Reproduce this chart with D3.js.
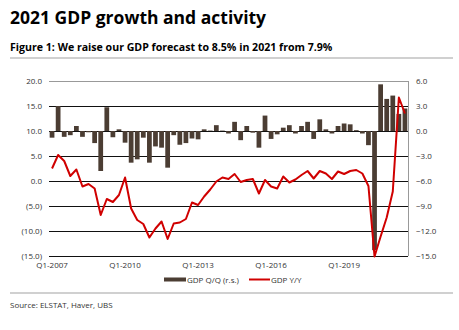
<!DOCTYPE html>
<html><head><meta charset="utf-8">
<script src="https://cdn.jsdelivr.net/npm/d3@7"></script>
<style>
body{margin:0;background:#fff;}
svg{display:block;font-family:"Open Sans","Noto Sans",sans-serif;}
</style></head>
<body><svg id="c" width="459" height="330"></svg>
<script>
const quarters = ["Q1-2007","Q2-2007","Q3-2007","Q4-2007","Q1-2008","Q2-2008","Q3-2008","Q4-2008",
"Q1-2009","Q2-2009","Q3-2009","Q4-2009","Q1-2010","Q2-2010","Q3-2010","Q4-2010",
"Q1-2011","Q2-2011","Q3-2011","Q4-2011","Q1-2012","Q2-2012","Q3-2012","Q4-2012",
"Q1-2013","Q2-2013","Q3-2013","Q4-2013","Q1-2014","Q2-2014","Q3-2014","Q4-2014",
"Q1-2015","Q2-2015","Q3-2015","Q4-2015","Q1-2016","Q2-2016","Q3-2016","Q4-2016",
"Q1-2017","Q2-2017","Q3-2017","Q4-2017","Q1-2018","Q2-2018","Q3-2018","Q4-2018",
"Q1-2019","Q2-2019","Q3-2019","Q4-2019","Q1-2020","Q2-2020","Q3-2020","Q4-2020",
"Q1-2021","Q2-2021","Q3-2021"];
// GDP Q/Q (right scale, bars)
const gdpQoQ = [-0.8,3.0,-0.7,-0.5,0.6,-0.7,-0.15,-1.45,
-4.8,2.85,-0.75,0.2,-1.4,-3.8,-3.4,-0.8,
-3.8,-1.85,-2.0,-4.4,-0.5,-1.65,-1.45,-0.9,
-1.0,0.2,0.05,0.7,0.05,-0.3,1.1,-1.1,
0.6,-0.2,-2.0,1.85,-0.95,-0.4,0.4,0.7,
-0.3,0.6,1.1,-0.95,1.4,0.2,-0.3,0.6,
0.9,0.8,0.1,-0.3,-1.7,-14.3,5.6,3.85,
4.25,2.05,2.7];
// GDP Y/Y (left scale, line)
const gdpYoY = [2.5,5.2,4.0,1.0,2.3,-1.1,-0.6,-1.5,
-6.8,-3.6,-4.2,-2.8,0.7,-5.5,-7.8,-8.6,
-11.3,-9.5,-8.1,-11.6,-8.5,-8.3,-7.6,-4.3,
-4.8,-3.1,-1.7,-0.1,0.7,0.4,1.4,-0.2,
0.2,0.4,-2.5,0.2,-1.1,-1.5,0.9,-0.3,
0.3,1.2,2.0,0.5,2.0,1.5,0.4,1.9,
1.4,2.0,2.2,1.5,-1.0,-15.1,-11.1,-7.3,
-2.1,16.7,13.5];
const leftTicks = [20,15,10,5,0,-5,-10,-15];
const rightTicks = [6,3,0,-3,-6,-9,-12,-15];
const xTickLabels = ["Q1-2007","Q1-2010","Q1-2013","Q1-2016","Q1-2019"];
const seriesNames = ["GDP Q/Q (r.s.)","GDP Y/Y"];

const svg = d3.select("#c");
const L=49, R=408, T=81, B=256;
const x = d3.scaleBand().domain(quarters).range([L,R]).paddingInner(0.22).paddingOuter(0.11);
const yL = d3.scaleLinear().domain([-15,20]).range([B,T]);
const yR = d3.scaleLinear().domain([-15,6]).range([B,T]);

// titles
svg.append("text").attr("x",10).attr("y",24).attr("font-size",17.5).attr("font-weight",700).attr("fill","#000").text("2021 GDP growth and activity");
svg.append("text").attr("x",10).attr("y",51).attr("font-size",10.6).attr("font-weight",700).attr("fill","#000").text("Figure 1: We raise our GDP forecast to 8.5% in 2021 from 7.9%");
svg.append("rect").attr("x",10).attr("y",57).attr("width",443).attr("height",2).attr("fill","#d0d0d0");

// gridlines
svg.append("g").selectAll("line").data(leftTicks).join("line")
  .attr("x1",L).attr("x2",R).attr("y1",d=>Math.round(yL(d))+0.5).attr("y2",d=>Math.round(yL(d))+0.5)
  .attr("stroke",d=>d===20?"#999":"#111").attr("stroke-width",1);
svg.append("line").attr("x1",R+0.5).attr("x2",R+0.5).attr("y1",T).attr("y2",B).attr("stroke","#999");

// left axis
const axL = svg.append("g").attr("transform",`translate(${L-7},0)`)
  .call(d3.axisLeft(yL).tickValues(leftTicks).tickSize(0).tickPadding(0)
  .tickFormat(d=> d<0 ? "("+d3.format(".1f")(-d)+")" : d3.format(".1f")(d)));
axL.select(".domain").remove();
axL.selectAll("text").attr("font-size",8).attr("fill","#333").attr("font-family","Open Sans, sans-serif");

// right axis
const axR = svg.append("g").attr("transform",`translate(${R+8},0)`)
  .call(d3.axisRight(yR).tickValues(rightTicks).tickSize(0).tickPadding(0).tickFormat(d3.format(".1f")));
axR.select(".domain").remove();
axR.selectAll("text").attr("font-size",8).attr("fill","#333").attr("font-family","Open Sans, sans-serif");

// bars
svg.append("g").selectAll("rect").data(gdpQoQ).join("rect")
  .attr("x",(d,i)=>x(quarters[i]))
  .attr("width",x.bandwidth())
  .attr("y",d=>Math.min(yR(d),yR(0)))
  .attr("height",d=>Math.abs(yR(d)-yR(0)))
  .attr("fill","#4b3d33");

// line
const line = d3.line().x((d,i)=>x(quarters[i])+x.bandwidth()/2).y(d=>yL(d));
svg.append("path").datum(gdpYoY).attr("d",line).attr("fill","none")
  .attr("stroke","#d00000").attr("stroke-width",2).attr("stroke-linejoin","round");

// x axis labels
const axX = svg.append("g").attr("transform",`translate(0,${B+6})`)
  .call(d3.axisBottom(x).tickValues(xTickLabels).tickSize(0).tickPadding(0));
axX.select(".domain").remove();
axX.selectAll("text").attr("font-size",8).attr("fill","#333").attr("font-family","Open Sans, sans-serif").attr("dy","0.75em");

// legend
const lg = svg.append("g");
lg.append("rect").attr("x",164).attr("y",277.5).attr("width",22).attr("height",4).attr("fill","#4b3d33");
lg.append("text").attr("x",187).attr("y",282.5).attr("font-size",8).attr("fill","#333").text(seriesNames[0]);
lg.append("line").attr("x1",249).attr("x2",270).attr("y1",279.5).attr("y2",279.5).attr("stroke","#d00000").attr("stroke-width",2);
lg.append("text").attr("x",271).attr("y",282.5).attr("font-size",8).attr("fill","#333").text(seriesNames[1]);

// footer
svg.append("rect").attr("x",10).attr("y",292).attr("width",443).attr("height",2).attr("fill","#d0d0d0");
svg.append("text").attr("x",10).attr("y",308).attr("font-size",8).attr("fill","#333").text("Source: ELSTAT, Haver, UBS");
</script></body></html>
